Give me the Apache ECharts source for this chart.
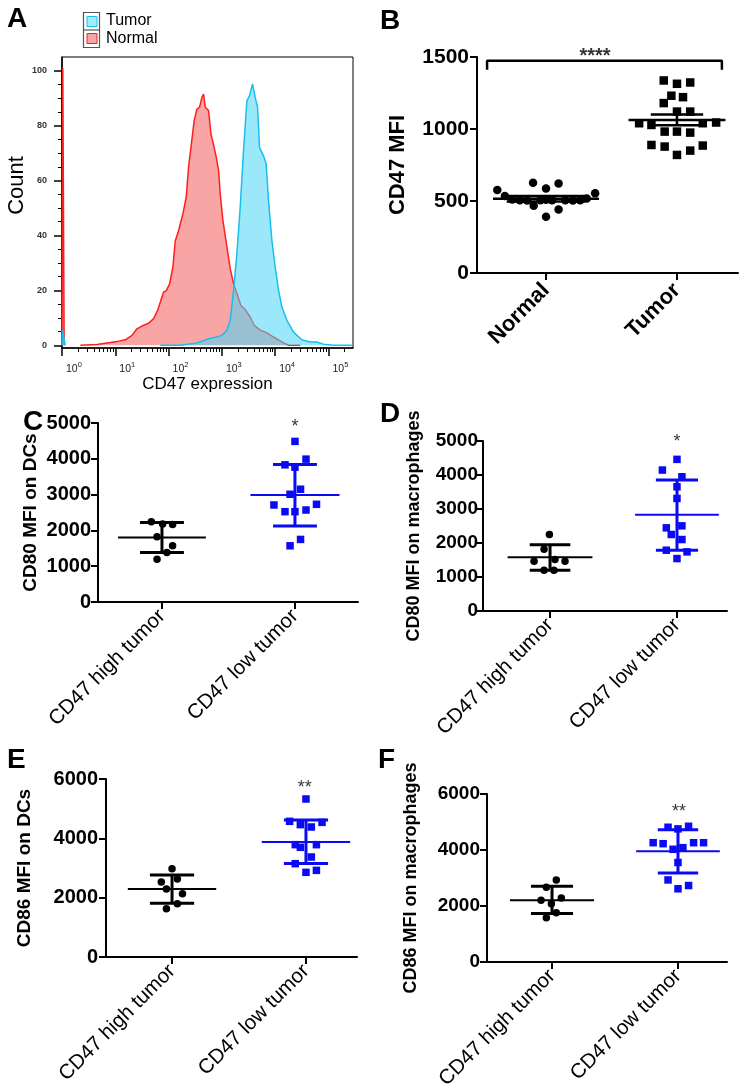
<!DOCTYPE html>
<html>
<head>
<meta charset="utf-8">
<script src="https://cdn.jsdelivr.net/npm/echarts@6/dist/echarts.min.js"></script>
<style>
  html, body { margin: 0; padding: 0; background: #fff; }
  #chart { width: 747px; height: 1092px; }
</style>
</head>
<body>
<div id="chart"></div>
<script>
// ---- A: CD47 histogram, x in decades (log10 of intensity), y = count ----
const normalHist = [
  [0.00, 0], [0.015, 101], [0.04, 0], [0.2, '-'],
  [0.344, 0], [0.656, 0.3], [0.906, 1], [1.063, 1.5], [1.188, 2], [1.313, 3.6], [1.406, 6],
  [1.5, 7], [1.625, 8], [1.719, 9.7], [1.794, 12.7], [1.856, 16.4], [1.906, 19.4], [1.956, 19.8],
  [2.019, 22.4], [2.081, 28.5], [2.125, 38], [2.188, 41.8], [2.269, 47.9], [2.331, 54],
  [2.375, 65], [2.419, 72], [2.481, 82], [2.531, 86], [2.581, 86.7], [2.625, 90.3], [2.656, 91.5],
  [2.688, 86.7], [2.75, 85.5], [2.794, 77], [2.844, 73], [2.894, 68.5], [2.938, 63.6], [2.969, 55],
  [3.019, 45.5], [3.094, 35.8], [3.156, 27.9], [3.219, 22.4], [3.294, 18.2], [3.356, 14.5],
  [3.438, 13], [3.531, 10.3], [3.606, 7.3], [3.719, 5.5], [3.844, 4.5], [3.969, 3], [4.125, 1.2],
  [4.25, 0], [4.469, 0]
];
const tumorHist = [
  [0.00, 0], [0.01, 5.5], [0.06, 0], [0.3, '-'],
  [1.844, 0], [2.219, 0], [2.469, 0.6], [2.594, 1.2], [2.75, 2.4], [2.906, 3], [3.0, 3.6],
  [3.094, 5.5], [3.156, 9.1], [3.219, 20], [3.281, 33.3], [3.344, 50.3], [3.406, 70.9],
  [3.469, 89], [3.519, 90.9], [3.575, 95.2], [3.625, 90.3], [3.669, 86.7], [3.706, 72.1],
  [3.781, 69], [3.831, 66], [3.875, 52.7], [3.938, 38.2], [4.0, 28.5], [4.063, 20], [4.125, 14],
  [4.219, 9.1], [4.344, 4.8], [4.5, 2], [4.656, 1.2], [4.781, 1.2], [4.906, 0.4], [5.094, 0],
  [5.438, 0]
];
const histYTicks = [0, 20, 40, 60, 80, 100];
const histYMinor = [5, 10, 15, 25, 30, 35, 45, 50, 55, 65, 70, 75, 85, 90, 95];
const histXDecades = [0, 1, 2, 3, 4, 5];
const histMinorMultipliers = [2, 3, 4, 5, 6, 7, 8, 9];

// ---- B: CD47 MFI, normal vs tumor ----
const bCats = ['Normal', 'Tumor'];
const bNormal = [576, 534, 511, 506, 504, 467, 627, 506, 587, 508, 390, 506, 622, 441, 506, 504, 506, 518, 553];
const bNormalJitter = [-0.372, -0.314, -0.258, -0.2, -0.144, -0.094, -0.099, -0.043, 0, 0, 0, 0.046, 0.096, 0.096, 0.147, 0.205, 0.261, 0.311, 0.375];
const bTumor = [1337, 1314, 1323, 1231, 1221, 1180, 1121, 1121, 1040, 1028, 1040, 1045, 982, 982, 975, 889, 878, 885, 850, 820];
const bTumorJitter = [-0.101, 0, 0.101, -0.043, 0.046, -0.101, 0, 0.101, -0.289, -0.195, 0.197, 0.299, -0.094, 0, 0.101, -0.195, -0.094, 0.197, 0.101, 0];
const bStats = [[0, 515, 534, 496], [1, 1063, 1100, 1026]]; // [group, mean, upper, lower]

// ---- C..F: CD47 high vs low tumor ----
const tumorCats = ['CD47 high tumor', 'CD47 low tumor'];

const cHigh = [2243, 2178, 2168, 1822, 1570, 1383, 1196];
const cHighJitter = [-0.08, 0.005, 0.08, -0.037, 0.08, 0.037, -0.037];
const cLow = [4486, 3991, 3832, 3766, 3150, 3009, 2710, 2523, 2523, 2570, 2729, 1748, 1570];
const cLowJitter = [0, 0.083, -0.075, 0, 0.042, -0.037, -0.158, -0.075, 0, 0.083, 0.162, 0.042, -0.037];
const cStats = [[0, 1800, 2220, 1380], [1, 2990, 3840, 2120]];

const dHigh = [2250, 1817, 1464, 1513, 1464, 1198, 1198];
const dHighJitter = [-0.005, -0.047, -0.126, 0.039, 0.118, -0.047, 0.031];
const dLow = [4460, 4145, 3949, 3654, 3310, 2446, 2505, 2250, 2102, 1788, 1739, 1542];
const dLowJitter = [0, -0.115, 0.039, 0, 0, -0.084, 0.039, -0.045, 0.039, -0.084, 0.079, 0];
const dStats = [[0, 1580, 1950, 1200], [1, 2830, 3850, 1790]];

const eHigh = [2978, 2528, 2629, 2292, 2135, 1798, 1629];
const eHighJitter = [0, -0.08, 0.04, -0.042, 0.078, 0.04, -0.042];
const eLow = [5326, 4573, 4461, 4382, 4539, 3787, 3697, 3787, 3371, 3146, 2854, 2921];
const eLowJitter = [0, -0.122, -0.042, 0.04, 0.12, -0.08, -0.042, 0.078, 0.04, -0.08, 0, 0.078];
const eStats = [[0, 2290, 2760, 1815], [1, 3880, 4620, 3150]];

const fHigh = [2929, 2671, 2200, 2282, 2082, 1576, 1753];
const fHighJitter = [0.034, -0.045, -0.087, 0.074, -0.005, -0.045, 0.034];
const fLow = [4812, 4753, 4847, 4259, 4224, 4024, 4082, 4259, 4259, 3553, 2929, 2729, 2612];
const fLowJitter = [-0.079, 0, 0.084, -0.197, -0.118, -0.039, 0.039, 0.124, 0.203, 0, -0.079, 0.084, 0];
const fStats = [[0, 2200, 2700, 1730], [1, 3950, 4720, 3180]];

// significance marks: [x, y, text]
const bSig = [[0.374, 1505, '****']];
const bBracket = [[-0.45, 1412], [-0.45, 1474], [1.343, 1474], [1.343, 1412]];
const cSig = [[1, 4874, '*']];
const dSig = [[1, 4956, '*']];
const eSig = [[0.99, 5697, '**']];
const fSig = [[1.008, 5347, '**']];

const FONT = '"Liberation Sans", Arial, Helvetica, sans-serif';
const BLUE = '#0A0AF5';
const HIST_X_MAX = 5.46;

const histXMinor = [];
histXDecades.forEach(n => histMinorMultipliers.forEach(k => {
  const v = n + Math.log10(k);
  if (v < HIST_X_MAX) histXMinor.push(v);
}));

const chart = echarts.init(document.getElementById('chart'), null, { renderer: 'canvas' });

function points(vals, jit, cat) {
  return vals.map((v, i) => [cat + jit[i], v]);
}

function errorBars(meanHalf, capHalf, colors, meanWidth, barWidth) {
  return function (params, api) {
    const i = params.dataIndex;
    const x = api.value(0), m = api.value(1), hi = api.value(2), lo = api.value(3);
    const c = colors[i];
    const seg = (x1, y1, x2, y2, w) => {
      const a = api.coord([x1, y1]), b = api.coord([x2, y2]);
      return { type: 'line', shape: { x1: a[0], y1: a[1], x2: b[0], y2: b[1] }, style: { stroke: c, lineWidth: w } };
    };
    return {
      type: 'group',
      children: [
        seg(x, lo, x, hi, barWidth),
        seg(x - capHalf[i], hi, x + capHalf[i], hi, barWidth),
        seg(x - capHalf[i], lo, x + capHalf[i], lo, barWidth),
        seg(x - meanHalf[i], m, x + meanHalf[i], m, meanWidth)
      ]
    };
  };
}

const grids = [
  { left: 62, top: 57, width: 291, height: 291, show: true, borderColor: '#000', borderWidth: 1 }
];
const xAxes = [
  {
    gridIndex: 0, type: 'value', min: 0, max: HIST_X_MAX, position: 'bottom',
    axisLine: { onZero: false, lineStyle: { color: '#000', width: 1.5 } },
    axisTick: { customValues: histXDecades, length: 8, lineStyle: { color: '#000', width: 1.5 } },
    axisLabel: {
      customValues: histXDecades, margin: 13, align: 'left', padding: [0, 0, 0, 4],
      formatter: v => '{b|10}{s|' + v + '}',
      rich: {
        b: { fontSize: 10.5, color: '#222', lineHeight: 14, verticalAlign: 'bottom', fontFamily: FONT },
        s: { fontSize: 7.5, color: '#222', lineHeight: 14, verticalAlign: 'top', fontFamily: FONT }
      }
    },
    splitLine: { show: false },
    name: 'CD47 expression', nameLocation: 'middle', nameGap: 28,
    nameTextStyle: { fontSize: 17, color: '#000', fontFamily: FONT }
  },
  {
    gridIndex: 0, type: 'value', min: 0, max: HIST_X_MAX, position: 'bottom',
    axisLine: { show: false, onZero: false },
    axisTick: { customValues: histXMinor, length: 4, lineStyle: { color: '#000', width: 1 } },
    axisLabel: { show: false }, splitLine: { show: false }
  }
];
const yAxes = [
  {
    gridIndex: 0, type: 'value', min: -1, max: 105, position: 'left',
    axisLine: { show: true, onZero: false, lineStyle: { color: '#000', width: 1.5 } },
    axisTick: { show: true, customValues: histYTicks, length: 8, lineStyle: { color: '#000', width: 1.5 } },
    axisLabel: { customValues: histYTicks, margin: 15, fontSize: 9, fontWeight: 'bold', color: '#333' },
    splitLine: { show: false },
    name: 'Count', nameLocation: 'middle', nameRotate: 90, nameGap: 30,
    nameTextStyle: { fontSize: 22, color: '#000', fontFamily: FONT, padding: [0, 0, 0, 34] }
  },
  {
    gridIndex: 0, type: 'value', min: -1, max: 105, position: 'left',
    axisLine: { show: false, onZero: false },
    axisTick: { show: true, customValues: histYMinor, length: 4, lineStyle: { color: '#000', width: 1 } },
    axisLabel: { show: false }, splitLine: { show: false }
  }
];
const series = [
  {
    type: 'line', name: 'Normal', xAxisIndex: 0, yAxisIndex: 0, data: normalHist,
    symbol: 'none', smooth: false, z: 2,
    lineStyle: { color: '#FF1E1E', width: 1.5 },
    areaStyle: { color: '#F9A5A5', opacity: 1 }
  },
  {
    type: 'line', name: 'Tumor', xAxisIndex: 0, yAxisIndex: 0, data: tumorHist,
    symbol: 'none', smooth: false, z: 3,
    lineStyle: { color: '#18BEEC', width: 1.5 },
    areaStyle: { color: 'rgba(75,213,248,0.55)', opacity: 1 }
  }
];

const panels = [
  {
    grid: { left: 477, top: 57, width: 261, height: 216 }, cats: bCats,
    xMin: -0.527, xMax: 1.466, yMax: 1500, yStep: 500,
    yName: 'CD47 MFI', nameSize: 22, nameGap: 68, labelSize: 21, labelMargin: 8,
    xLabelSize: 22, xLabelWeight: 'bold', xLabelMargin: 14,
    groups: [[bNormal, bNormalJitter, 'circle', '#000'], [bTumor, bTumorJitter, 'rect', '#000']],
    symbolSize: 8.5, stats: bStats, meanHalf: [0.405, 0.37], capHalf: [0.3, 0.2],
    barColors: ['#000', '#000'], meanWidth: 2.5, barWidth: 2.5,
    sig: bSig, sigSize: 20, bracket: bBracket
  },
  {
    grid: { left: 98, top: 423, width: 260, height: 179 }, cats: tumorCats,
    xMin: -0.481, xMax: 1.474, yMax: 5000, yStep: 1000,
    yName: 'CD80 MFI on DCs', nameSize: 19, nameGap: 58, labelSize: 20, labelMargin: 7,
    xLabelSize: 20.5, xLabelWeight: 'normal', xLabelMargin: 11,
    groups: [[cHigh, cHighJitter, 'circle', '#000'], [cLow, cLowJitter, 'rect', BLUE]],
    symbolSize: 7.5, stats: cStats, meanHalf: [0.33, 0.335], capHalf: [0.165, 0.165],
    barColors: ['#000', BLUE], meanWidth: 2, barWidth: 3,
    sig: cSig, sigSize: 18
  },
  {
    grid: { left: 483, top: 441, width: 244, height: 170 }, cats: tumorCats,
    xMin: -0.528, xMax: 1.394, yMax: 5000, yStep: 1000,
    yName: 'CD80 MFI on macrophages', nameSize: 18, nameGap: 60, labelSize: 19, labelMargin: 5,
    xLabelSize: 20.5, xLabelWeight: 'normal', xLabelMargin: 11,
    groups: [[dHigh, dHighJitter, 'circle', '#000'], [dLow, dLowJitter, 'rect', BLUE]],
    symbolSize: 7.5, stats: dStats, meanHalf: [0.334, 0.33], capHalf: [0.16, 0.166],
    barColors: ['#000', BLUE], meanWidth: 2, barWidth: 3,
    sig: dSig, sigSize: 18
  },
  {
    grid: { left: 106, top: 779, width: 251, height: 178 }, cats: tumorCats,
    xMin: -0.493, xMax: 1.381, yMax: 6000, yStep: 2000,
    yName: 'CD86 MFI on DCs', nameSize: 19, nameGap: 72, labelSize: 20, labelMargin: 8,
    xLabelSize: 20.5, xLabelWeight: 'normal', xLabelMargin: 11,
    groups: [[eHigh, eHighJitter, 'circle', '#000'], [eLow, eLowJitter, 'rect', BLUE]],
    symbolSize: 7.5, stats: eStats, meanHalf: [0.33, 0.33], capHalf: [0.165, 0.165],
    barColors: ['#000', BLUE], meanWidth: 2, barWidth: 3,
    sig: eSig, sigSize: 18
  },
  {
    grid: { left: 487, top: 794, width: 240, height: 170 }, cats: tumorCats,
    xMin: -0.516, xMax: 1.389, yMax: 6000, yStep: 2000,
    yName: 'CD86 MFI on macrophages', nameSize: 18, nameGap: 67, labelSize: 19, labelMargin: 7,
    xLabelSize: 20.5, xLabelWeight: 'normal', xLabelMargin: 11,
    groups: [[fHigh, fHighJitter, 'circle', '#000'], [fLow, fLowJitter, 'rect', BLUE]],
    symbolSize: 7.5, stats: fStats, meanHalf: [0.334, 0.332], capHalf: [0.167, 0.16],
    barColors: ['#000', BLUE], meanWidth: 2, barWidth: 3,
    sig: fSig, sigSize: 18
  }
];

panels.forEach(p => {
  const gi = grids.length;
  grids.push(Object.assign({ containLabel: false }, p.grid));
  const xi = xAxes.length, yi = yAxes.length;
  xAxes.push({
    gridIndex: gi, type: 'value', min: p.xMin, max: p.xMax, position: 'bottom',
    axisLine: { onZero: false, lineStyle: { color: '#000', width: 2 } },
    axisTick: { customValues: [0, 1], length: 7, lineStyle: { color: '#000', width: 2 } },
    axisLabel: {
      customValues: [0, 1], rotate: 45, margin: p.xLabelMargin,
      fontSize: p.xLabelSize, fontWeight: p.xLabelWeight, color: '#000', fontFamily: FONT,
      formatter: v => p.cats[Math.round(v)]
    },
    splitLine: { show: false }
  });
  yAxes.push({
    gridIndex: gi, type: 'value', min: 0, max: p.yMax, interval: p.yStep, position: 'left',
    axisLine: { show: true, onZero: false, lineStyle: { color: '#000', width: 2 } },
    axisTick: { show: true, length: 7, lineStyle: { color: '#000', width: 2 } },
    axisLabel: {
      margin: p.labelMargin, fontSize: p.labelSize, fontWeight: 'bold', color: '#000', fontFamily: FONT,
      formatter: v => String(v)
    },
    splitLine: { show: false },
    name: p.yName, nameLocation: 'middle', nameRotate: 90, nameGap: p.nameGap,
    nameTextStyle: { fontSize: p.nameSize, fontWeight: 'bold', color: '#000', fontFamily: FONT }
  });
  p.groups.forEach((g, cat) => {
    series.push({
      type: 'scatter', xAxisIndex: xi, yAxisIndex: yi,
      data: points(g[0], g[1], cat), symbol: g[2], symbolSize: p.symbolSize,
      itemStyle: { color: g[3], opacity: 1 }, z: 2
    });
  });
  series.push({
    type: 'custom', xAxisIndex: xi, yAxisIndex: yi, data: p.stats, z: 3,
    encode: { x: 0, y: 1 },
    renderItem: errorBars(p.meanHalf, p.capHalf, p.barColors, p.meanWidth, p.barWidth)
  });
  series.push({
    type: 'scatter', xAxisIndex: xi, yAxisIndex: yi, data: p.sig, symbolSize: 0, z: 4, clip: false,
    label: {
      show: true, position: 'inside', formatter: d => d.value[2],
      fontSize: p.sigSize, color: '#000', fontFamily: FONT,
      fontWeight: p.bracket ? 'bold' : 'normal'
    }
  });
  if (p.bracket) {
    series.push({
      type: 'line', xAxisIndex: xi, yAxisIndex: yi, data: p.bracket, symbol: 'none', z: 4, clip: false,
      lineStyle: { color: '#000', width: 2.5 }
    });
  }
});

const letterFont = 'bold 28px ' + FONT;
function letter(t, x, y) {
  return { type: 'text', x: x, y: y, style: { text: t, font: letterFont, fill: '#000', align: 'left', verticalAlign: 'middle' } };
}

const graphic = [
  letter('A', 7, 19), letter('B', 380, 21), letter('C', 23, 422),
  letter('D', 380, 414), letter('E', 7, 760), letter('F', 378, 760),
  // flow legend for panel A
  { type: 'rect', shape: { x: 83.5, y: 12.5, width: 16, height: 35 }, style: { fill: 'none', stroke: '#555', lineWidth: 1.2 } },
  { type: 'line', shape: { x1: 83.5, y1: 30, x2: 99.5, y2: 30 }, style: { stroke: '#555', lineWidth: 1.2 } },
  { type: 'rect', shape: { x: 87, y: 16.5, width: 10, height: 10 }, style: { fill: '#A2EBFB', stroke: '#18BEEC', lineWidth: 1 } },
  { type: 'rect', shape: { x: 87, y: 33.5, width: 10, height: 10 }, style: { fill: '#F9A5A5', stroke: '#FF1E1E', lineWidth: 1 } },
  { type: 'text', x: 106, y: 21, style: { text: 'Tumor', font: '16px ' + FONT, fill: '#000', verticalAlign: 'middle' } },
  { type: 'text', x: 106, y: 39, style: { text: 'Normal', font: '16px ' + FONT, fill: '#000', verticalAlign: 'middle' } }
];

chart.setOption({
  animation: false,
  backgroundColor: '#fff',
  textStyle: { fontFamily: FONT },
  grid: grids,
  xAxis: xAxes,
  yAxis: yAxes,
  series: series,
  graphic: graphic
});
</script>
</body>
</html>
